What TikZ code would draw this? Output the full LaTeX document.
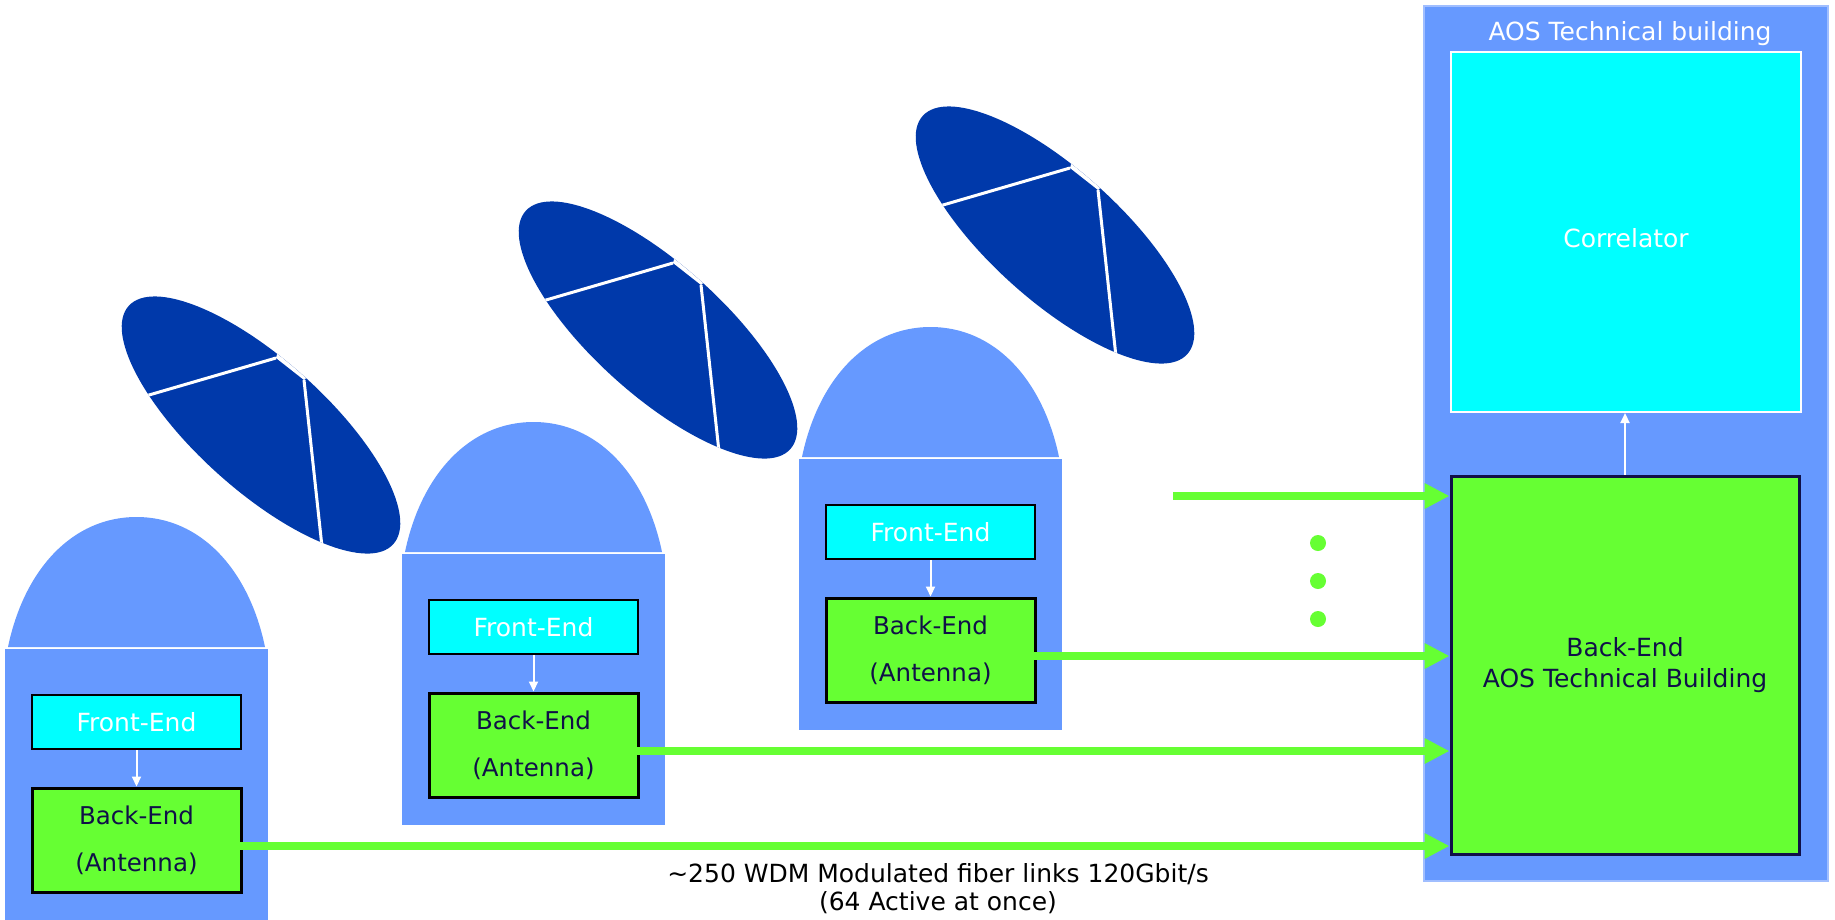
\documentclass[tikz,border=0pt]{standalone}
\usepackage{fontspec}
\setmainfont{DejaVu Sans}
\usetikzlibrary{arrows.meta,calc}

\definecolor{skyblue}{RGB}{102,153,255}
\definecolor{dishblue}{RGB}{0,57,170}
\definecolor{feCyan}{RGB}{0,255,255}
\definecolor{beGreen}{RGB}{102,255,51}
\definecolor{navy}{RGB}{16,16,72}
\definecolor{rimblue}{RGB}{160,190,255}

\tikzset{
  lbl/.style={font=\fontsize{25}{29}\selectfont},
  febox/.style={draw=black, line width=2.5pt, fill=feCyan, text=white,
    minimum width=209pt, minimum height=54pt, inner sep=0pt, lbl},
  bebox/.style={draw=black, line width=3pt, fill=beGreen, text=navy,
    minimum width=209pt, minimum height=104pt, inner sep=0pt, align=center,
    font=\fontsize{24.5}{47}\selectfont},
  link/.style={white, line width=2pt, -{Triangle[length=10pt,width=9pt]}},
  fiber/.style={beGreen, line width=8pt, -{Triangle[length=25pt,width=24pt]}},
  feed/.style={white, line width=3pt},
}

\begin{document}
\begin{tikzpicture}[x=1pt,y=-1pt]
\useasboundingbox (0,0) rectangle (1835,919);
\fill[white] (0,0) rectangle (1835,919);

% ---- AOS technical building ----
\node[fill=skyblue, draw=rimblue, line width=1.5pt, minimum width=404pt,
      minimum height=875pt, inner sep=0pt] (aos) at (1626,443.5) {};
\node[lbl, text=white, anchor=base] (aostitle) at (1630,40) {AOS Technical building};
\node[fill=feCyan, draw=white, line width=2pt, minimum width=350pt,
      minimum height=360pt, inner sep=0pt] (corr) at (1626,232) {};
\node[lbl, text=white] (corrtext) at (1626,238) {Correlator};
\node[fill=beGreen, draw=navy, line width=3pt, minimum width=348pt,
      minimum height=378pt, inner sep=0pt, text=navy, align=center,
      font=\fontsize{25}{31}\selectfont] (aosbe) at (1625,665)
      {Back-End\\AOS Technical Building};
\draw[link] (aosbe.north) -- (aosbe.north |- corr.south);

% ---- antennas: dish, dome, cabin with front-end and back-end ----
\foreach \i/\n in {0/1,1/2,2/3}{
  \begin{scope}[shift={(397*\i,-95*\i)}]
    \begin{scope}[shift={(261,425)}]
      \clip[rotate=-42] (0,0) ellipse [x radius=178, y radius=65];
      \fill[dishblue] (-200,-200) rectangle (200,200);
      % flat rim between the two feed legs
      \fill[white] (15,-67) -- (43,-45) -- (60,-60) -- (20,-85) -- cycle;
      \draw[feed] (-124,-26.5) -- (15,-67);
      \draw[feed] (43,-45) -- (62,131);
    \end{scope}
    \fill[skyblue] (8,647) .. controls (24,570) and (72,517) .. (136.5,517)
                   .. controls (201,517) and (249,570) .. (265,647) -- cycle;
    \fill[skyblue] (5,649) rectangle (268,920);
    \node[febox] (fe\n) at (136.5,722) {Front-End};
    \node[bebox] (be\n) at (136.5,840) {Back-End\\(Antenna)};
    \draw[link] (fe\n) -- (be\n);
  \end{scope}
}

% ---- fiber links ----
\foreach \n in {1,2,3}{
  \coordinate (src\n) at ($(be\n.east)+(-3,6)$);
  \draw[fiber] (src\n) -- (src\n -| aosbe.west);
}
\coordinate (more) at (1173,496);
\draw[fiber] (more) -- (more -| aosbe.west);
\foreach \y in {543,581,619}
  \fill[beGreen] (1318,\y) circle [radius=8];

% ---- caption ----
\node[lbl, anchor=base] (cap1) at (938,882)
  {\textasciitilde250 WDM Modulated fiber links 120Gbit/s};
\node[lbl, anchor=base] (cap2) at (938,910) {(64 Active at once)};
\end{tikzpicture}
\end{document}
